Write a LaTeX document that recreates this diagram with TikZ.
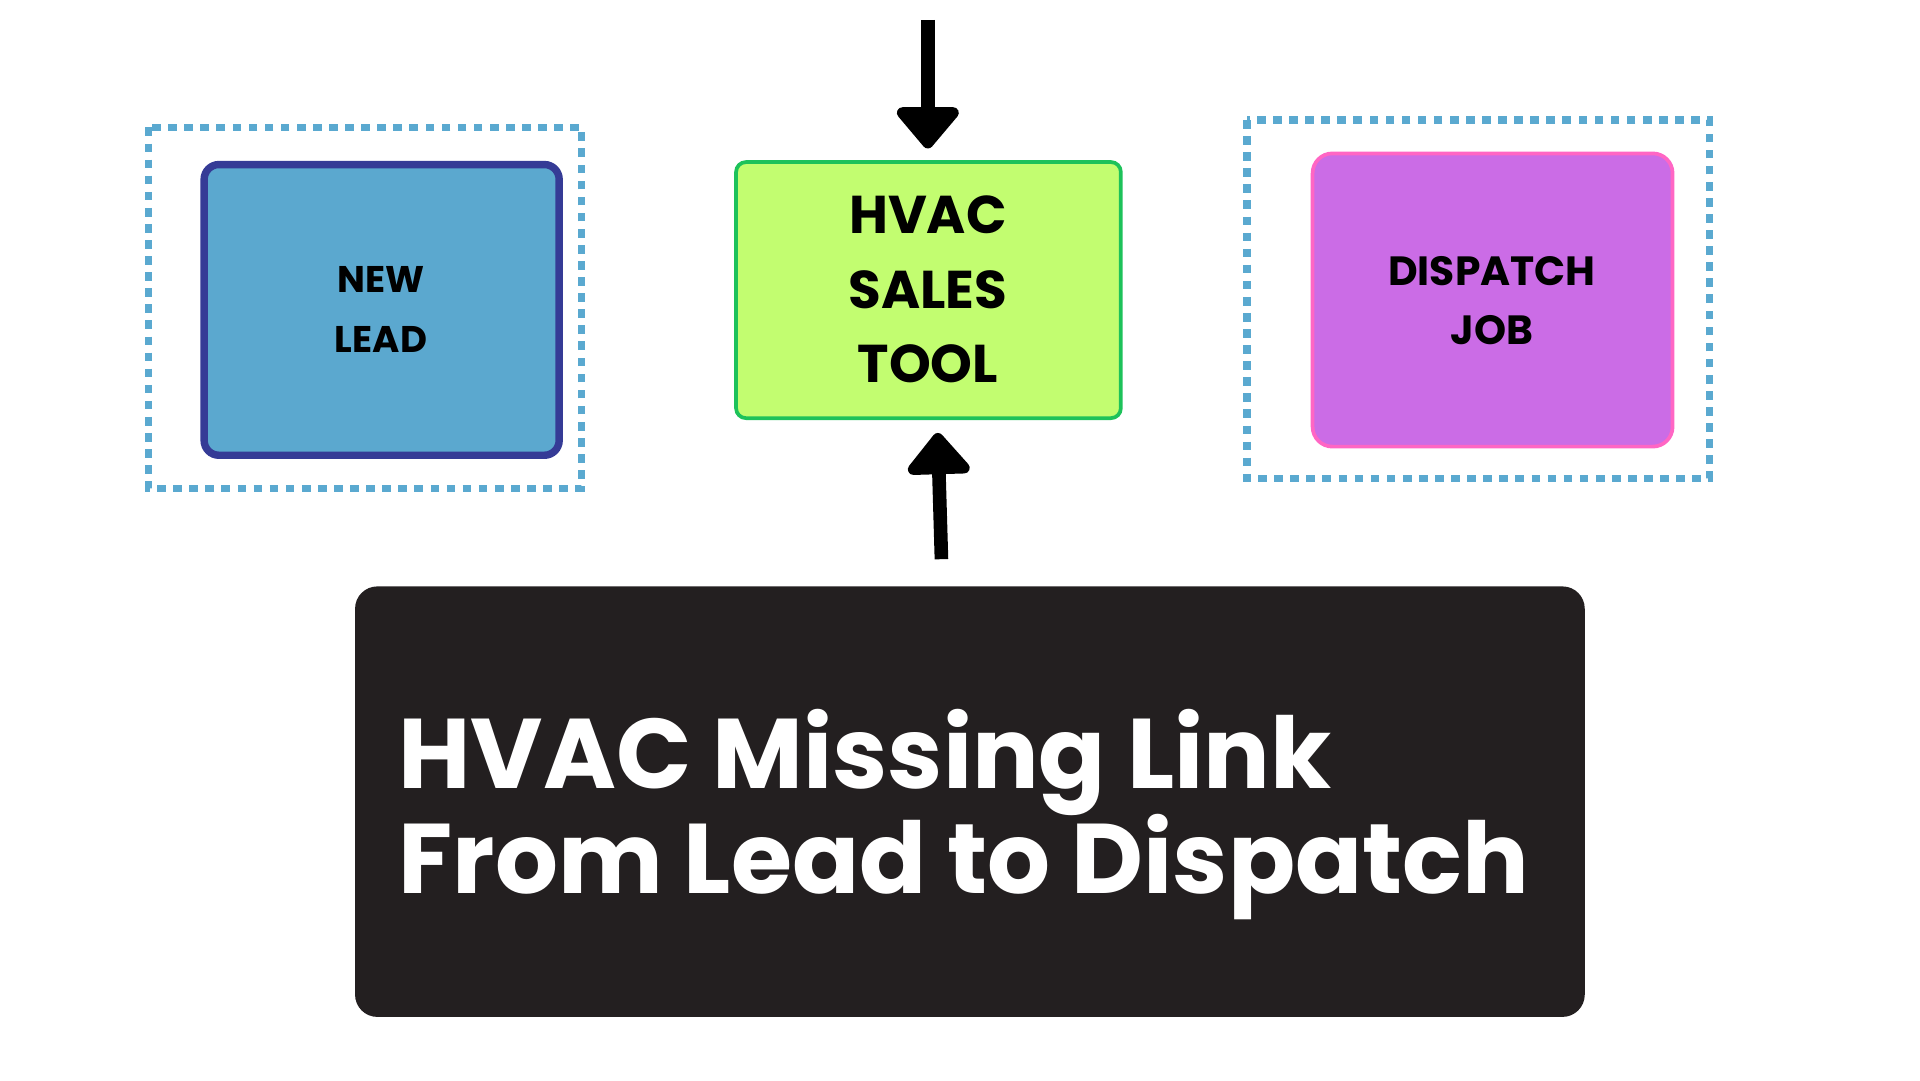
\documentclass[tikz,border=0pt]{standalone}
\usepackage{fontspec}
\setmainfont{Poppins}
\usetikzlibrary{arrows.meta}
\definecolor{dotblue}{HTML}{5AA9D0}
\definecolor{leadfill}{HTML}{5BA8CF}
\definecolor{leaddraw}{HTML}{353B96}
\definecolor{toolfill}{HTML}{C2FD70}
\definecolor{tooldraw}{HTML}{1DC25A}
\definecolor{dispfill}{HTML}{CB6CE6}
\definecolor{dispdraw}{HTML}{FF66C4}
\definecolor{darkbox}{HTML}{231F20}
\tikzset{
 dotframe/.style={draw=dotblue,line width=6pt,dash pattern=on 7pt off 6pt},
 lbl/.style={font=\bfseries, align=center, text=black},
 bigarrow/.style={line width=11pt,-{Triangle[length=36pt,width=58pt,round]}}
}
\begin{document}
\begin{tikzpicture}[x=1pt,y=-1pt]
\useasboundingbox (0,0) rectangle (1552,873);
\draw[dotframe] (120,103) rectangle (470,395);
\draw[dotframe] (1008,97) rectangle (1382,387);
\draw[fill=leadfill,draw=leaddraw,line width=6pt,rounded corners=12pt] (165,133) rectangle (452,368);
\node[lbl,font=\fontsize{30}{48}\selectfont\bfseries] (lead) at (308,250) {NEW\\LEAD};
\draw[fill=toolfill,draw=tooldraw,line width=3pt,rounded corners=8pt] (595,131) rectangle (906,338);
\node (toolbox) at (750,234.5) [minimum width=311pt,minimum height=207pt] {};
\node[lbl,font=\fontsize{43}{60}\selectfont\bfseries] (tool) at (750,234) {HVAC\\SALES\\TOOL};
\draw[fill=dispfill,draw=dispdraw,line width=3pt,rounded corners=16pt] (1061,124) rectangle (1352,361);
\node[lbl,font=\fontsize{33}{47}\selectfont\bfseries] (disp) at (1206,243) {DISPATCH\\JOB};
\coordinate (topstart) at (750,16);
\coordinate (botstart) at (761,452);
\draw[bigarrow] (topstart) -- (750,120);
\draw[bigarrow] (botstart) -- (758,350);
\draw[fill=darkbox,draw=none,rounded corners=18pt] (287,474) rectangle (1281,822);
\node[anchor=base west,text=white,font=\fontsize{80}{85}\selectfont\bfseries,inner sep=0] (t1) at (322,637) {HVAC Missing Link};
\node[anchor=base west,text=white,font=\fontsize{80}{85}\selectfont\bfseries,inner sep=0] (t2) at (322,722) {From Lead to Dispatch};
\end{tikzpicture}
\end{document}
